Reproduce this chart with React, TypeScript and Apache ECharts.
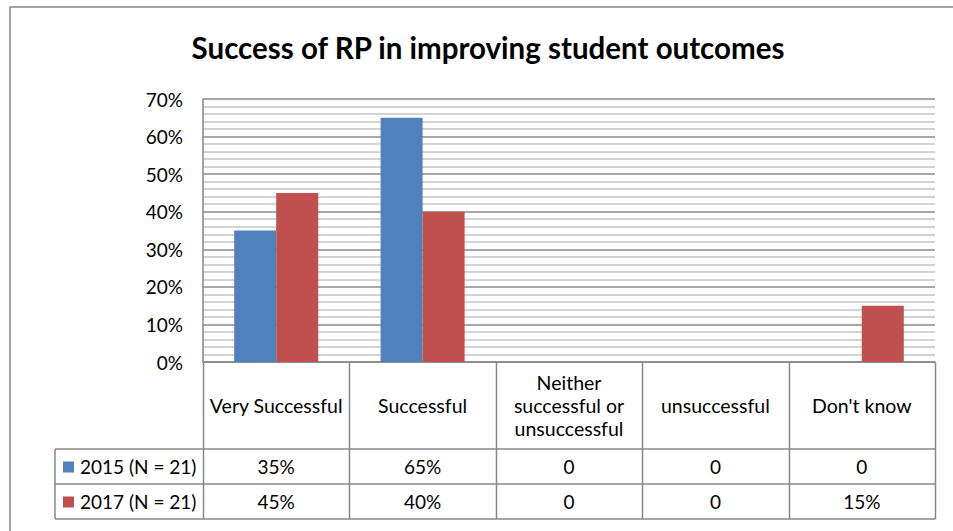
import React, { useEffect, useRef } from "react";
import * as echarts from "echarts";

const titleText = "Success of RP in improving student outcomes";
const categories = [
  "Very Successful",
  "Successful",
  "Neither\nsuccessful or\nunsuccessful",
  "unsuccessful",
  "Don't know",
];
const seriesNames = ["2015 (N = 21)", "2017 (N = 21)"];
const values2015 = [0.35, 0.65, 0, 0, 0];
const values2017 = [0.45, 0.4, 0, 0, 0.15];
const table2015 = ["35%", "65%", "0", "0", "0"];
const table2017 = ["45%", "40%", "0", "0", "15%"];
const colors = ["#4F81BD", "#C0504D"];

const FONT = "Lato, 'Open Sans', sans-serif";
const FS = 19;
const GRID = { left: 203, right: 18, top: 99, bottom: 169 };
const W = 953;
const H = 531;
const LINE = "#878787";

export default function App() {
  const ref = useRef<HTMLDivElement>(null);
  useEffect(() => {
    if (!ref.current) return;
    const chart = echarts.init(ref.current, undefined, { renderer: "svg" });
    const option: any = {
      animation: false,
      backgroundColor: "#fff",
      title: {
        text: titleText,
        left: 483,
        textAlign: "center",
        top: 27,
        textStyle: { fontFamily: FONT, fontSize: 29.5, fontWeight: "bold", color: "#000" },
      },
      grid: { ...GRID, containLabel: false },
      xAxis: {
        type: "category",
        data: categories,
        axisLine: { show: true, lineStyle: { color: LINE, width: 1.5 } },
        axisTick: { show: false },
        axisLabel: {
          interval: 0,
          margin: 43,
          verticalAlign: "middle",
          fontFamily: FONT,
          fontSize: 19.5,
          lineHeight: 23,
          color: "#000",
          align: "center",
        },
      },
      yAxis: {
        type: "value",
        min: 0,
        max: 0.7,
        interval: 0.1,
        axisLine: { show: true, lineStyle: { color: LINE, width: 1.5 } },
        axisTick: { show: false },
        axisLabel: {
          margin: 20,
          fontFamily: FONT,
          fontSize: FS,
          color: "#000",
          formatter: (v: number) => Math.round(v * 100) + "%",
        },
        splitLine: { show: true, lineStyle: { color: "#8a8a8a", width: 1.5 } },
        minorTick: { show: false, splitNumber: 5 },
        minorSplitLine: { show: true, lineStyle: { color: "#c4c4c4", width: 1.5 } },
      },
      series: [
        {
          name: seriesNames[0],
          type: "bar",
          data: values2015,
          barWidth: 42,
          barGap: "0%",
          itemStyle: { color: colors[0] },
        },
        {
          name: seriesNames[1],
          type: "bar",
          data: values2017,
          barWidth: 42,
          barGap: "0%",
          itemStyle: { color: colors[1] },
        },
      ],
    };
    chart.setOption(option);

    const plotLeft = GRID.left;
    const plotRight = W - GRID.right;
    const plotBottom = H - GRID.bottom;
    const catW = (plotRight - plotLeft) / categories.length;
    const row1Top = 449;
    const row2Top = 484;
    const row2Bottom = 519;
    const legendLeft = 55;
    const elements: any[] = [];
    elements.push({
      type: "rect",
      shape: { x: 10, y: 7, width: 1200, height: 800 },
      style: { fill: "none", stroke: LINE, lineWidth: 1.5 },
      silent: true,
    });
    for (let i = 0; i <= categories.length; i++) {
      const x = Math.round(plotLeft + catW * i) + 0.5;
      elements.push({
        type: "line",
        shape: { x1: x, y1: plotBottom, x2: x, y2: row2Bottom },
        style: { stroke: LINE, lineWidth: 1.5 },
      });
    }
    [row1Top, row2Top, row2Bottom].forEach((y) => {
      elements.push({
        type: "line",
        shape: { x1: legendLeft, y1: y, x2: plotRight + 0.5, y2: y },
        style: { stroke: LINE, lineWidth: 1.5 },
      });
    });
    elements.push({
      type: "line",
      shape: { x1: legendLeft, y1: row1Top, x2: legendLeft, y2: row2Bottom },
      style: { stroke: LINE, lineWidth: 1.5 },
    });
    const rows = [table2015, table2017];
    const rowMid = [(row1Top + row2Top) / 2, (row2Top + row2Bottom) / 2];
    rows.forEach((vals, r) => {
      elements.push({
        type: "rect",
        shape: { x: 63, y: rowMid[r] - 5, width: 11, height: 11 },
        style: { fill: colors[r] },
      });
      elements.push({
        type: "text",
        x: 80,
        y: rowMid[r],
        style: {
          text: seriesNames[r],
          fontFamily: FONT,
          fontSize: FS,
          fill: "#000",
          verticalAlign: "middle",
          align: "left",
        },
      });
      vals.forEach((v, i) => {
        const px = chart.convertToPixel({ xAxisIndex: 0 }, i) as number;
        elements.push({
          type: "text",
          x: px,
          y: rowMid[r],
          style: {
            text: v,
            fontFamily: FONT,
            fontSize: FS,
            fill: "#000",
            align: "center",
            verticalAlign: "middle",
          },
        });
      });
    });
    chart.setOption({ graphic: { elements } });
    return () => chart.dispose();
  }, []);
  return (
    <div
      ref={ref}
      style={{ position: "fixed", left: 0, top: 0, width: W, height: H, background: "#fff" }}
    />
  );
}
